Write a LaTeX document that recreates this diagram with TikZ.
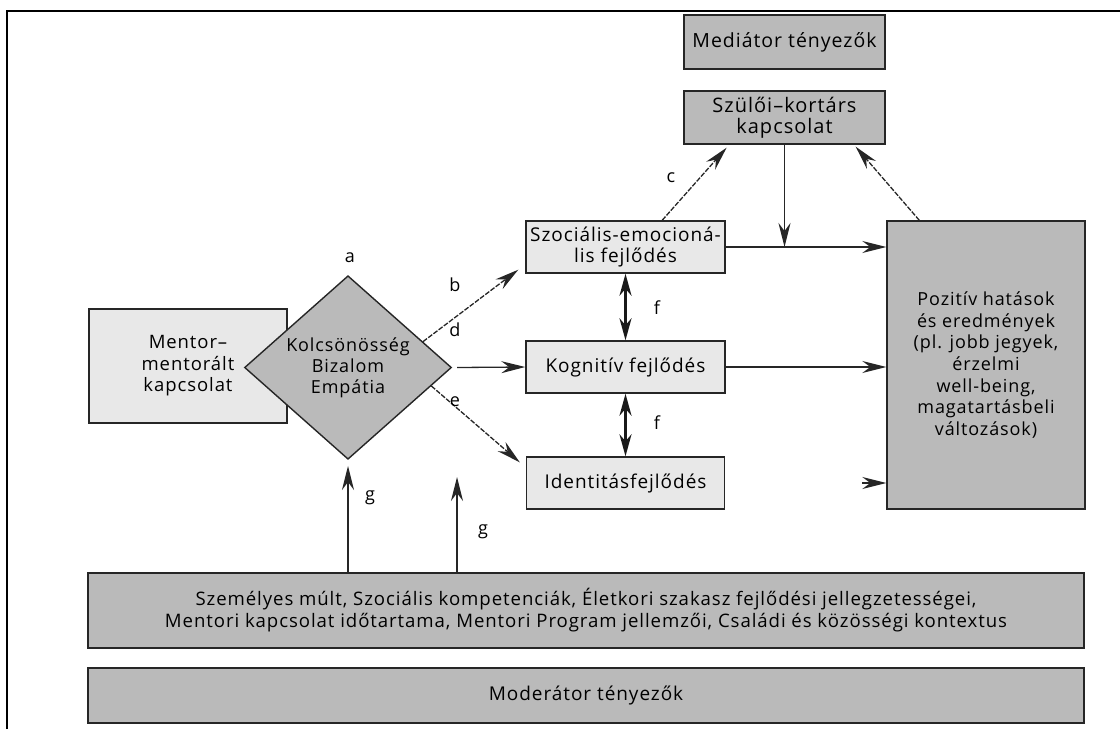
\documentclass[tikz,border=0pt]{standalone}
\usepackage{fontspec}
\setmainfont{Open Sans}[LetterSpace=5]
\usetikzlibrary{arrows.meta,shapes.geometric,calc}
\definecolor{lightbox}{gray}{0.91}
\definecolor{darkbox}{gray}{0.73}
\definecolor{edgegray}{gray}{0.15}
\begin{document}
\begin{tikzpicture}[x=1pt,y=-1pt,
  box/.style={draw=edgegray,line width=1.4pt,inner sep=0pt,align=center,
    font=\fontsize{19}{21}\selectfont},
  lbox/.style={box,fill=lightbox},
  dbox/.style={box,fill=darkbox},
  arr/.style={-{Stealth[length=24pt,width=12pt,inset=8pt]}},
  dbl/.style={{Stealth[length=22pt,width=12pt,inset=7pt]}-{Stealth[length=22pt,width=12pt,inset=7pt]},line width=2.8pt},
  conn/.style={line width=1.3pt,draw=edgegray},
  dsh/.style={conn,dash pattern=on 5pt off 1.5pt},
  lab/.style={font=\fontsize{18}{18}\selectfont,inner sep=0pt}
]
\useasboundingbox (0,0) rectangle (1120,729);
\draw[line width=2.5pt] (7,729) -- (7,11) -- (1120,11);

\node[dbox,minimum width=201pt,minimum height=54pt,font=\fontsize{19.5}{21}\selectfont] (med) at (784.5,42) {Mediátor tényezők};
\node[dbox,minimum width=201pt,minimum height=53pt,font=\fontsize{20}{21}\selectfont] (szul) at (784.5,117.5) {Szülői–kortárs\\kapcsolat};
\node[lbox,minimum width=199pt,minimum height=52pt] (szoc) at (625.5,247) {Szociális-emocioná-\\lis fejlődés};
\node[lbox,minimum width=199pt,minimum height=52pt] (kog) at (625.5,367) {Kognitív fejlődés};
\node[lbox,minimum width=198pt,minimum height=52pt] (ident) at (625.5,483) {Identitásfejlődés};
\node[dbox,minimum width=198pt,minimum height=288pt,font=\fontsize{18}{21.7}\selectfont] (poz) at (986,365) {Pozitív hatások\\és eredmények\\(pl. jobb jegyek,\\érzelmi\\well-being,\\magatartásbeli\\változások)};
\node[lbox,minimum width=198pt,minimum height=114pt,font=\fontsize{18.5}{21.5}\selectfont] (mentor) at (188,366) {Mentor–\\mentorált\\kapcsolat};
\node[dbox,diamond,minimum width=207pt,minimum height=169pt,font=\fontsize{18}{21}\selectfont] (diam) at (348,367.5) {Kolcsönösség\\Bizalom\\Empátia};
\node[dbox,minimum width=996pt,minimum height=75pt,font=\fontsize{18.6}{22}\selectfont] (pers) at (586,610.5) {Személyes múlt, Szociális kompetenciák, Életkori szakasz fejlődési jellegzetességei,\\Mentori kapcsolat időtartama, Mentori Program jellemzői, Családi és közösségi kontextus};
\node[dbox,minimum width=996pt,minimum height=55pt,font=\fontsize{19}{21}\selectfont] (mod) at (586,695.5) {Moderátor tényezők};

% diamond outputs
\draw[dsh,arr] ($(diam.north)!0.72!(diam.east)$) -- ($(szoc.south west)+(-7,-4)$);
\draw[conn,arr] ($(diam.east)+(5,0)$) -- (kog.west);
\draw[dsh,arr] ($(diam.east)!0.2!(diam.south)$) -- ($(ident.north west)+(-6,6)$);
% c
\draw[dsh,arr] ($(szoc.north west)!0.683!(szoc.north east)$) -- ($(szul.south west)!0.214!(szul.south east)+(0,3)$);
% feedback
\draw[dsh,arr] ($(poz.north west)+(33,0)$) -- ($(szul.south east)+(-30,2)$);
% to positive
\draw[conn,arr] (szoc.east) -- (szoc.east -| poz.west);
\draw[conn,arr] (szul.south) -- (szul.south |- szoc.east);
\draw[conn,arr] (kog.east) -- (kog.east -| poz.west);
\coordinate (tipend) at (ident.east -| poz.west);
\draw[conn,arr] ($(tipend)+(-24,0)$) -- (tipend);
% f
\draw[dbl,draw=black!90] (szoc.south) -- (kog.north);
\draw[dbl,draw=black!90] (kog.south) -- (ident.north);
% g
\draw[conn,arr] (pers.north -| diam.south) -- ($(diam.south)+(0,6)$);
\coordinate (g2) at (457,477);
\draw[conn,arr] (pers.north -| g2) -- (g2);

% labels
\node[lab] (la) at (350,258) {a};
\node[lab] (lb) at (455,285) {b};
\node[lab] (lc) at (671,178) {c};
\node[lab] (ld) at (455,330) {d};
\node[lab] (le) at (455,402) {e};
\node[lab] (lf1) at (657,308) {f};
\node[lab] (lf2) at (657,423) {f};
\node[lab] (lg1) at (370,498) {g};
\node[lab] (lg2) at (483,532) {g};
\end{tikzpicture}
\end{document}
